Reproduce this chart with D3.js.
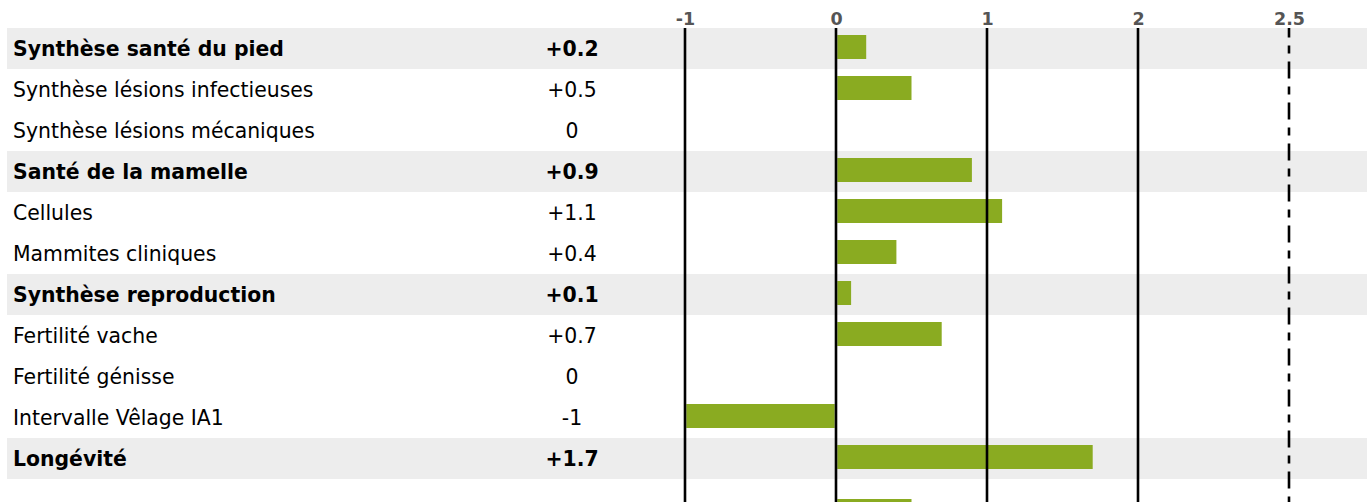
<!DOCTYPE html>
<html><head><meta charset="utf-8">
<script src="https://cdn.jsdelivr.net/npm/d3@7"></script>
<style>body{margin:0;background:#fff;overflow:hidden}svg{display:block;font-family:"DejaVu Sans",sans-serif}</style>
</head><body><svg id="c" width="1367" height="502"></svg>
<script>
const labels = ["Synthèse santé du pied","Synthèse lésions infectieuses","Synthèse lésions mécaniques","Santé de la mamelle","Cellules","Mammites cliniques","Synthèse reproduction","Fertilité vache","Fertilité génisse","Intervalle Vêlage IA1","Longévité","Vitesse de traite"];
const values = [0.2,0.5,0,0.9,1.1,0.4,0.1,0.7,0,-1,1.7,0.5];
const valueLabels = ["+0.2","+0.5","0","+0.9","+1.1","+0.4","+0.1","+0.7","0","-1","+1.7","+0.5"];
const isSummary = [true,false,false,true,false,false,true,false,false,false,true,false];
const groupGap = [0,0,0,0,0,0,0,0,0,0,0,13];
const tickPositions = [-1,0,1,2,3];
const tickLabels = ["-1","0","1","2","2.5"];

const svg = d3.select("#c");
const W = 1367, H = 502;
const rowH = 41, top0 = 28, barH = 24, barOff = 7;
const x = d3.scaleLinear().domain([-1,3]).range([685,1289]);

let acc = 0;
const rowsTop = values.map((v,i)=>{acc += groupGap[i]; return top0 + i*rowH + acc;});

const rows = svg.append("g").selectAll("g").data(values).join("g")
  .attr("transform",(d,i)=>`translate(0,${rowsTop[i]})`);
rows.filter((d,i)=>isSummary[i]).append("rect")
  .attr("x",7).attr("y",0).attr("width",W-7).attr("height",rowH).attr("fill","#ededed");
const visible = rows.filter((d,i)=>rowsTop[i] + rowH/2 + 8 < H);
visible.append("text").attr("x",13).attr("y",rowH/2).attr("dy","0.35em")
  .attr("font-size",20.4).attr("fill","#000")
  .each(function(d){
    const i = rows.nodes().indexOf(this.parentNode);
    d3.select(this).attr("font-weight",isSummary[i]?"bold":"normal").text(labels[i]);
  });
visible.append("text").attr("x",572).attr("y",rowH/2).attr("dy","0.35em")
  .attr("text-anchor","middle").attr("font-size",20.4).attr("fill","#000")
  .each(function(d){
    const i = rows.nodes().indexOf(this.parentNode);
    d3.select(this).attr("font-weight",isSummary[i]?"bold":"normal").text(valueLabels[i]);
  });

// grid lines
svg.append("g").selectAll("line").data(tickPositions).join("line")
  .attr("x1",d=>x(d)).attr("x2",d=>x(d)).attr("y1",top0).attr("y2",H)
  .attr("stroke","#000").attr("stroke-width",2.6)
  .attr("stroke-dasharray",(d,i)=>i===tickPositions.length-1?"17,8,8,8":null)
  .attr("stroke-dashoffset",(d,i)=>i===tickPositions.length-1?7.5:null);

// bars
rows.append("rect")
  .attr("x",d=> d>=0 ? x(0)+1.3 : x(d)+1.3)
  .attr("y",barOff).attr("height",barH)
  .attr("width",d=> d===0 ? 0 : Math.abs(x(d)-x(0)) - (d<0?2.6:1.3))
  .attr("fill","#8aab21");

// thin overlay lines through bars
svg.append("g").selectAll("line").data(tickPositions.filter(t=>t!==0 && t!==3)).join("line")
  .attr("x1",d=>x(d)).attr("x2",d=>x(d)).attr("y1",top0).attr("y2",H)
  .attr("stroke","#000").attr("stroke-width",1.2);

// axis labels
const axis = d3.axisTop(x).tickValues(tickPositions).tickSize(0).tickPadding(3)
  .tickFormat((d,i)=>tickLabels[i]);
const ag = svg.append("g").attr("transform",`translate(0,${top0})`).call(axis);
ag.select(".domain").remove();
ag.selectAll("text").style("font-size","17.5px").style("font-weight","bold")
  .attr("fill","#555").style("font-family","'DejaVu Sans',sans-serif");
</script></body></html>
